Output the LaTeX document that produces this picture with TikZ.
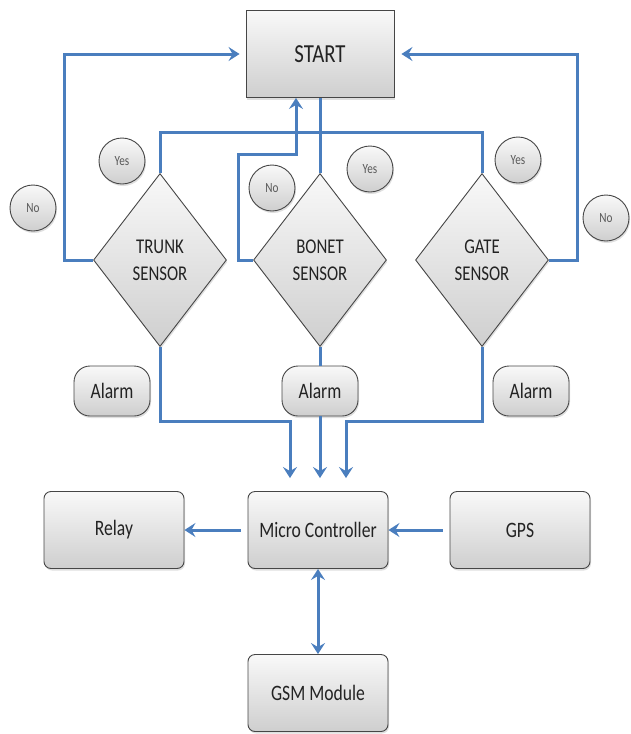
\documentclass[tikz,border=0pt]{standalone}
\usepackage{fontspec}
\setmainfont{Carlito}[FakeStretch=0.8]
\usetikzlibrary{shapes.geometric,arrows.meta,positioning,shadows}
\definecolor{flowblue}{RGB}{74,126,190}
\definecolor{edgegray}{RGB}{70,70,70}
\definecolor{textgray}{RGB}{35,35,35}
\tikzset{
  box/.style={rectangle, draw=edgegray, line width=0.9pt,
    top color=gray!5, bottom color=gray!38, text=textgray,
    inner sep=0pt, drop shadow={opacity=0.25, shadow xshift=1pt, shadow yshift=-2pt}},
  block/.style={box, rounded corners=7pt, minimum width=140pt, minimum height=77pt,
    font=\fontsize{22}{26}\selectfont},
  alarm/.style={box, rounded corners=16pt, minimum width=76pt, minimum height=50pt,
    font=\fontsize{22}{26}\selectfont},
  decide/.style={box, diamond, align=center, minimum width=133pt, minimum height=173pt,
    font=\fontsize{21}{27}\selectfont},
  answer/.style={box, circle, minimum size=46pt, text=black!65,
    font=\fontsize{14}{16}\selectfont},
  flow/.style={draw=flowblue, line width=3pt}
}

\begin{document}
\begin{tikzpicture}[x=1pt, y=-1pt, >={Stealth[length=11pt,width=14pt,inset=4pt]}]
\useasboundingbox (0,0) rectangle (630,734);

%% start and sensors
\node[box, minimum width=148pt, minimum height=87pt, font=\fontsize{26}{30}\selectfont] (Start) at (320,54) {START};

\node[decide] (Trunk) at (160,260) {TRUNK\\SENSOR};
\node[decide] (Bonet) at (320,260) {BONET\\SENSOR};
\node[decide] (Gate)  at (482,260) {GATE\\SENSOR};

\node[answer] (No1)  at (33,208)  {No};
\node[answer] (Yes1) at (122,161) {Yes};
\node[answer] (No2)  at (272,188) {No};
\node[answer] (Yes2) at (370,169) {Yes};
\node[answer] (Yes3) at (518,160) {Yes};
\node[answer] (No3)  at (606,218) {No};

%% alarms
\node[alarm] (Alarm1) at (112,391) {Alarm};
\node[alarm] (Alarm2) at (320,391) {Alarm};
\node[alarm] (Alarm3) at (531,391) {Alarm};

%% modules
\node[block] (Micro) at (318,530) {Micro Controller};
\node[block] (Relay) at (114,530) {Relay};
\node[block] (GPS)   at (520,530) {GPS};
\node[block] (GSM)   at (318,693) {GSM Module};

\coordinate (NoTurn) at (296,154);

%% loops back to start
\draw[flow,->,shorten >=6pt] (Trunk.west) -- ++(-29,0) |- (Start.west);
\draw[flow,->,shorten >=7pt] (Gate.east) -- ++(29,0) |- (Start.east);
\draw[flow] (Trunk.north) -- ++(0,-41) -| (Gate.north);
\draw[flow] (Start.south) -- (Bonet.north);
\draw[flow,->] (Bonet.west) -- ++(-15,0) |- (NoTurn) -- (NoTurn |- Start.south);

%% sensors to controller
\draw[flow,->,shorten >=13pt] (Trunk.south) -- ++(0,75) -| ([xshift=-28pt]Micro.north);
\draw[flow] (Bonet.south) -- (Alarm2.north);
\draw[flow,->,shorten >=13pt] (Alarm2.south) -- (Alarm2.south |- Micro.north);
\draw[flow,->,shorten >=13pt] (Gate.south) -- ++(0,75) -| ([xshift=28pt]Micro.north);

%% controller links
\draw[flow,->,shorten <=7pt] (Micro.west) -- (Relay.east);
\draw[flow,->,shorten <=7pt] (GPS.west) -- (Micro.east);
\draw[flow,<->] (Micro.south) -- (GSM.north);

\end{tikzpicture}
\end{document}
